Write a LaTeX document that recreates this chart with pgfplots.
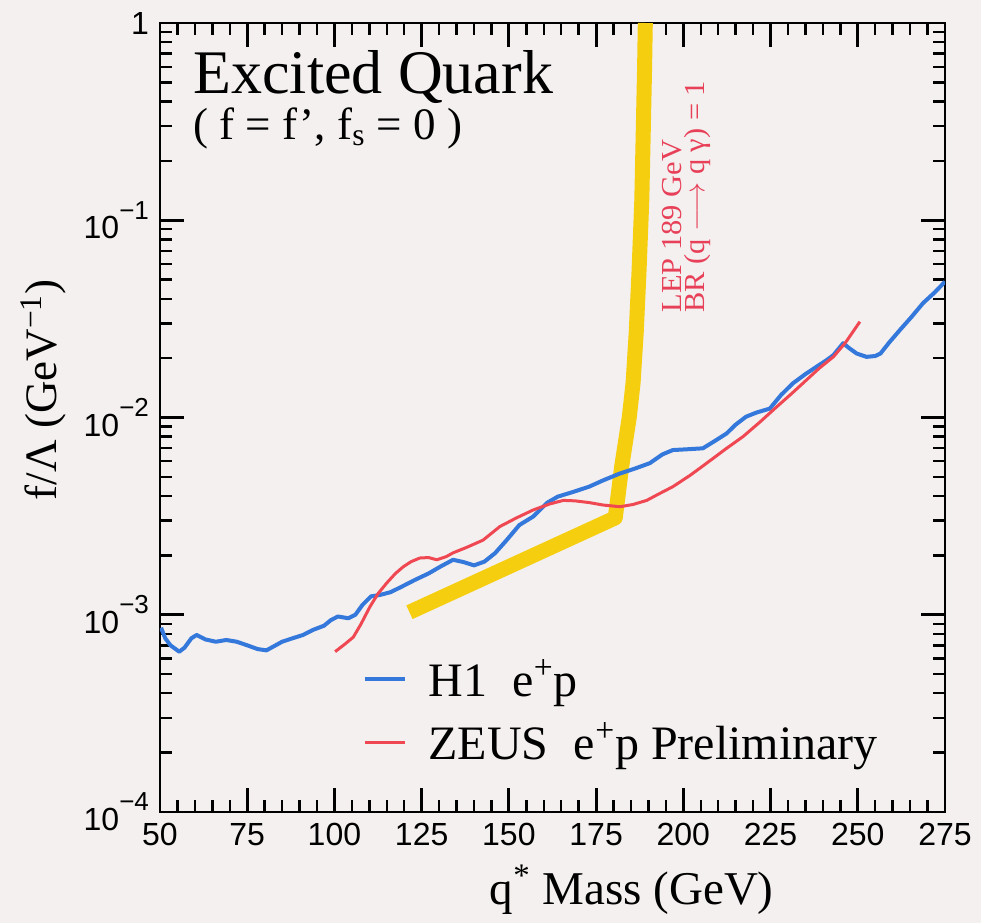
\documentclass[border=0pt]{standalone}
\usepackage{fontspec}
\setmainfont{Liberation Serif}
\newfontfamily\ticksans{Liberation Sans}
\usepackage{pgfplots}
\pgfplotsset{compat=1.18}

\definecolor{bgcol}{RGB}{243,240,239}
\definecolor{hone}{RGB}{52,120,220}
\definecolor{zeus}{RGB}{240,72,82}
\definecolor{lep}{RGB}{246,206,16}
\definecolor{leptext}{RGB}{232,64,88}

% exponent label for the log axis, set in the tick font
\newcommand{\dec}[1]{10\raisebox{0.62em}{\fontsize{13}{13}\selectfont −#1}}

% H1 e+p limit on f/Lambda versus q* mass
\pgfplotstableread{
m      lim
50.3   8.6e-4
51.5   7.6e-4
53     7.0e-4
55.5   6.5e-4
57     6.8e-4
59     7.6e-4
60.5   7.9e-4
63     7.5e-4
66     7.3e-4
69     7.45e-4
72     7.3e-4
75     7.0e-4
78     6.7e-4
80.5   6.6e-4
82.5   6.9e-4
85     7.3e-4
88     7.6e-4
91     7.9e-4
94     8.4e-4
97     8.8e-4
99     9.4e-4
101    9.8e-4
104    9.6e-4
106    1.0e-3
108    1.12e-3
110.5  1.24e-3
113    1.26e-3
116    1.3e-3
119    1.38e-3
123    1.5e-3
127    1.62e-3
130.5  1.76e-3
134    1.9e-3
137    1.85e-3
140    1.78e-3
143    1.86e-3
146    2.05e-3
149    2.35e-3
153    2.85e-3
157    3.15e-3
161    3.7e-3
164    3.97e-3
168.5  4.2e-3
173    4.46e-3
177    4.8e-3
181.8  5.2e-3
186    5.5e-3
190.4  5.87e-3
194    6.5e-3
197    6.84e-3
201    6.9e-3
205.6  6.98e-3
209    7.6e-3
212.4  8.3e-3
215    9.2e-3
218    1.01e-2
221    1.06e-2
224.8  1.11e-2
228    1.3e-2
231.4  1.49e-2
235    1.66e-2
238.2  1.81e-2
241    1.95e-2
243    2.07e-2
245.8  2.38e-2
247.5  2.25e-2
249.7  2.11e-2
252.5  2.03e-2
255    2.05e-2
256.5  2.11e-2
259    2.4e-2
262.1  2.78e-2
265.5  3.25e-2
268.7  3.8e-2
272    4.3e-2
275    4.88e-2
}\hone

% ZEUS e+p preliminary limit
\pgfplotstableread{
m      lim
100.2  6.5e-4
103    7.1e-4
105.4  7.7e-4
107.5  8.9e-4
110.2  1.1e-3
112.5  1.28e-3
115    1.45e-3
117.5  1.62e-3
119.7  1.75e-3
122    1.86e-3
124.5  1.94e-3
127    1.95e-3
129.3  1.9e-3
132    1.97e-3
134    2.06e-3
138    2.2e-3
142.6  2.39e-3
147.4  2.8e-3
152.2  3.1e-3
157    3.4e-3
161.8  3.65e-3
165.6  3.8e-3
169    3.78e-3
173.2  3.7e-3
177    3.6e-3
181.8  3.53e-3
185.5  3.62e-3
189.5  3.8e-3
193    4.1e-3
197    4.46e-3
202    5.1e-3
206.7  5.87e-3
212    6.9e-3
217.1  8.0e-3
222    9.5e-3
226.7  1.13e-2
231    1.32e-2
235.3  1.55e-2
239    1.78e-2
243    2.03e-2
246.5  2.4e-2
250.6  3.06e-2
}\zeus

% LEP 189 GeV exclusion band edge
\pgfplotstableread{
m      lim
121.5  1.03e-3
180.5  3.1e-3
182.3  5.6e-3
184.5  1.0e-2
185.6  1.5e-2
186.5  2.7e-2
187.3  5.5e-2
188.1  0.127
188.9  0.6
189.1  1
}\lep

\begin{document}
\begin{tikzpicture}
% page background (the axis box has its lower left corner at the origin)
\fill[bgcol] (-80pt,-55.5pt) rectangle (410.5pt,406pt);
\begin{axis}[
  name=ax,
  at={(0pt,0pt)}, anchor=south west,
  scale only axis,
  width=392.5pt, height=394.5pt,
  xmin=50, xmax=275,
  ymode=log, ymin=1e-4, ymax=1,
  xtick={50,75,...,275},
  minor x tick num=4,
  ytick={1e-4,1e-3,1e-2,1e-1,1},
  yticklabels={\dec{4},\dec{3},\dec{2},\dec{1},1},
  xtick pos=both, ytick pos=both,
  /pgf/number format/assume math mode=true,
  tick label style={font=\ticksans\fontsize{16}{18}\selectfont},
  xticklabel style={yshift=-2pt},
  yticklabel style={xshift=-2pt},
  tick align=inside,
  major tick length=12pt,
  minor tick length=6pt,
  axis line style={line width=1.4pt},
  major tick style={draw=black, line width=1.4pt},
  minor tick style={draw=black, line width=1.2pt},
  xlabel={q\textsuperscript{*} Mass (GeV)},
  ylabel={f/Λ (GeV\textsuperscript{−1})},
  label style={font=\fontsize{22.5}{24}\selectfont},
  xlabel style={font=\fontsize{23.5}{25}\selectfont, at={(axis description cs:0.601,-0.099)}, anchor=center},
  ylabel style={at={(axis description cs:-0.149,0.535)}, anchor=center},
  legend style={at={(rel axis cs:0.25,0.204)}, anchor=north west, draw=none, fill=none,
    font=\fontsize{24}{27}\selectfont, row sep=7.5pt, cells={anchor=west},
    /tikz/every odd column/.append style={column sep=9pt}},
  legend image code/.code={\draw[#1] (0pt,0pt) -- (20pt,0pt);},
]
\addplot[lep, line width=7.5pt, line cap=butt, line join=round, forget plot] table[x=m, y=lim] {\lep};
\addplot[hone, line width=2pt, line join=round] table[x=m, y=lim] {\hone};
\addlegendentry{H1\; e\textsuperscript{+}p}
\addplot[zeus, line width=1.5pt, line join=round] table[x=m, y=lim] {\zeus};
\addlegendentry{ZEUS\; e\textsuperscript{+}p Preliminary}

\node[anchor=base west, inner sep=0, font=\fontsize{31}{33}\selectfont]
  at (rel axis cs:0.042,0.911) {Excited Quark};
\node[anchor=base west, inner sep=0, font=\fontsize{22.5}{24}\selectfont]
  at (rel axis cs:0.042,0.852) {( f = f', f\textsubscript{s} = 0 )};
\node[rotate=90, xscale=1.05, anchor=south west, align=left, inner sep=0, text=leptext,
  font=\fontsize{14.5}{11.5}\selectfont]
  at (axis cs:207.9,0.0339) {LEP 189 GeV\\BR (q $\longrightarrow$ q γ) = 1};
\end{axis}
\pgfresetboundingbox
\path[use as bounding box] (-80pt,-55.5pt) rectangle (410.5pt,406pt);
\end{tikzpicture}
\end{document}
